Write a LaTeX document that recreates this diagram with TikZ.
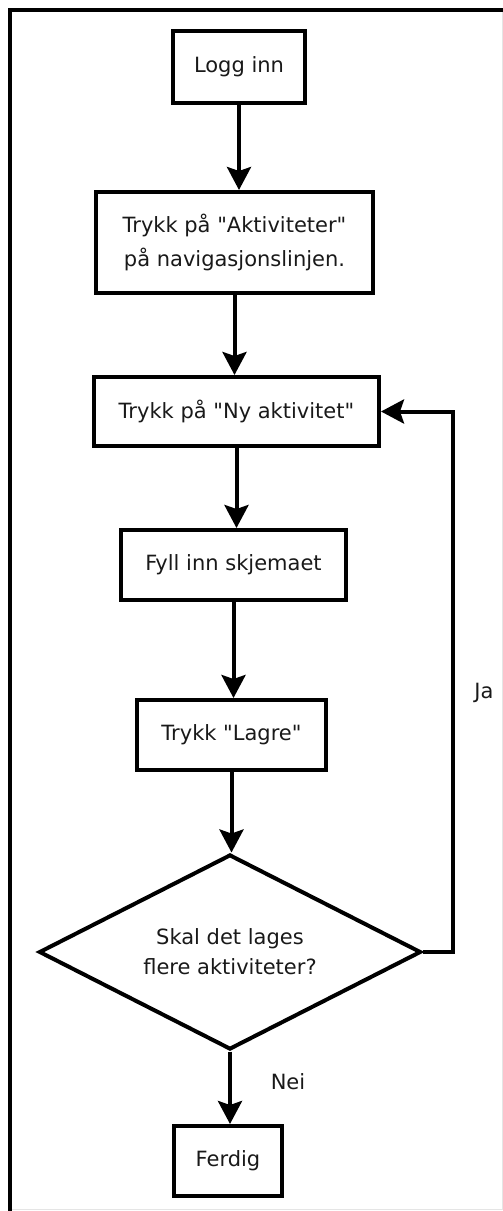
\documentclass[tikz,border=0pt]{standalone}
\usepackage{fontspec}
\setmainfont{DejaVu Sans}
\usetikzlibrary{shapes.geometric,arrows.meta}

\tikzset{
  stepbox/.style={draw=black, line width=4pt, rectangle, inner sep=0pt,
    align=center, text=black!90, font=\fontsize{21}{34}\selectfont},
  decision/.style={draw=black, line width=4pt, diamond, aspect=2, inner sep=0pt,
    align=center, text=black!90, font=\fontsize{21}{30}\selectfont},
  flow/.style={line width=4pt, -{Stealth[length=23pt, width=24pt, inset=4pt]}},
  answer/.style={text=black!90, font=\fontsize{21}{25}\selectfont},
}

\begin{document}
\begin{tikzpicture}[x=1pt, y=-1pt]
  \useasboundingbox (0,0) rectangle (503,1211);

  % outer frame
  \draw[black!10, line width=1pt] (10,1209) -- (502,1209) -- (502,10);
  \draw[line width=4pt] (10,1215) -- (10,10) -- (507,10);

  % process steps
  \node[stepbox, minimum width=132pt, minimum height=72pt] (b1) at (239,67) {Logg inn};
  \node[stepbox, minimum width=277pt, minimum height=101pt] (b2) at (234.5,242.5)
    {Trykk på \textquotedbl Aktiviteter\textquotedbl\\ på navigasjonslinjen.};
  \node[stepbox, minimum width=285pt, minimum height=69pt] (b3) at (236.5,411.5)
    {Trykk på \textquotedbl Ny aktivitet\textquotedbl};
  \node[stepbox, minimum width=225pt, minimum height=70pt] (b4) at (233.5,565)
    {Fyll inn skjemaet};
  \node[stepbox, minimum width=189pt, minimum height=70pt] (b5) at (231.5,735)
    {Trykk \textquotedbl Lagre\textquotedbl};
  \node[decision, minimum width=382pt, minimum height=195pt] (q) at (230,952)
    {Skal det lages\\ flere aktiviteter?};
  \node[stepbox, minimum width=108pt, minimum height=70pt] (end) at (228,1161) {Ferdig};

  % connectors
  \draw[flow] (b1.south) -- (b1.south |- b2.north);
  \draw[flow] (b2.south) -- (b2.south |- b3.north);
  \draw[flow] (b3.south) -- (b3.south |- b4.north);
  \draw[flow] (b4.south) -- (b4.south |- b5.north);
  \draw[flow] (b5.south) -- (b5.south |- q.north);
  \draw[flow] (q.south) -- (q.south |- end.north);
  \draw[flow] (q.east) -- ++(30,0) coordinate (loop) |- (b3.east);

  % branch labels
  \node[answer] (ja) at (484,693) {Ja};
  \node[answer] (nei) at (288,1082) {Nei};
\end{tikzpicture}
\end{document}
